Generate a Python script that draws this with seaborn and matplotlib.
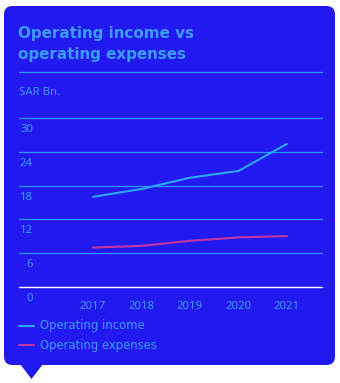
import matplotlib
matplotlib.use("Agg")
import matplotlib.pyplot as plt
import matplotlib.transforms as mtransforms
from matplotlib.patches import FancyBboxPatch, Polygon
from matplotlib.lines import Line2D
import pandas as pd
import seaborn as sns

# --- data (SAR Bn.) ---
years = [2017, 2018, 2019, 2020, 2021]
operating_income = [16.0, 17.4, 19.4, 20.6, 25.4]
operating_expenses = [7.0, 7.3, 8.2, 8.8, 9.05]
series_names = ["Operating income", "Operating expenses"]
y_ticks = [0, 6, 12, 18, 24, 30]

# --- colours ---
CARD = "#2219f0"
GRID = "#2b9af6"
TEXT = "#3a9dff"
INCOME = "#2aa8f7"
EXPENSE = "#c4359f"

W, H = 340, 383
sns.set_theme(style="white")
plt.rcParams["font.family"] = ["Noto Sans", "DejaVu Sans"]

fig = plt.figure(figsize=(W / 100, H / 100), dpi=100)
fig.patch.set_facecolor("white")

def px(x, y):
    """Figure fraction from pixel coords measured from top-left."""
    return x / W, 1 - y / H

# card background with rounded corners and a small pointer
card = FancyBboxPatch(px(4, 365), (335 - 4) / W, (365 - 6) / H,
                      boxstyle="round,pad=0,rounding_size=0.025",
                      transform=fig.transFigure, facecolor=CARD,
                      edgecolor="none", zorder=-10, mutation_aspect=W / H)
fig.patches.append(card)
pointer = Polygon([px(20, 364), px(43, 364), px(31.5, 379)], closed=True,
                  transform=fig.transFigure, facecolor=CARD,
                  edgecolor="none", zorder=-10)
fig.patches.append(pointer)

TITLE_FONT = ["DejaVu Sans"]

# title block
fig.text(*px(18, 38), "Operating income vs", fontsize=10.9, fontweight="bold",
         color=TEXT, family=TITLE_FONT, va="baseline", ha="left")
fig.text(*px(18, 59.5), "operating expenses", fontsize=10.9, fontweight="bold",
         color=TEXT, family=TITLE_FONT, va="baseline", ha="left")
fig.lines.append(Line2D([19 / W, 322 / W], [1 - 71.5 / H] * 2,
                        transform=fig.transFigure, color=GRID, lw=0.9))
fig.text(*px(19, 95), "SAR Bn.", fontsize=8.2, color=TEXT,
         va="baseline", ha="left")

# plotting area
x0, x1 = 19, 322
y_top, y_base = 118, 287
ax = fig.add_axes([x0 / W, 1 - y_base / H, (x1 - x0) / W, (y_base - y_top) / H])
ax.set_facecolor("none")

df = pd.DataFrame({
    "year": years * 2,
    "value": operating_income + operating_expenses,
    "series": [series_names[0]] * len(years) + [series_names[1]] * len(years),
})
sns.lineplot(data=df, x="year", y="value", hue="series", ax=ax,
             palette={series_names[0]: INCOME, series_names[1]: EXPENSE},
             linewidth=1.5, legend=False, zorder=3)

spacing = 48.5
ax.set_xlim(years[0] - (93 - x0) / spacing, years[-1] + (x1 - 287) / spacing)
ax.set_ylim(0, 30)

for v in y_ticks:
    ax.axhline(v, color="white" if v == 0 else GRID, lw=1.0 if v == 0 else 0.9,
               zorder=2, clip_on=False)

for s in ax.spines.values():
    s.set_visible(False)
ax.set_yticks([])
ax.set_xticks(years)
ax.set_xticklabels([str(y) for y in years], color=TEXT, fontsize=8.2)
ax.tick_params(axis="x", length=0, pad=10)
ax.set_xlabel("")
ax.set_ylabel("")

# y labels sit just below their gridlines
label_tr = mtransforms.offset_copy(ax.get_yaxis_transform(), fig=fig,
                                   x=14, y=-11.5, units="dots")
for v in y_ticks:
    ax.text(0, v, str(v), transform=label_tr, ha="right", va="center",
            color=TEXT, fontsize=8.2)

# legend
for i, (name, col) in enumerate(zip(series_names, [INCOME, EXPENSE])):
    yy = 326 + i * 19
    fig.lines.append(Line2D([19 / W, 34 / W], [1 - yy / H] * 2,
                            transform=fig.transFigure, color=col, lw=1.5))
    fig.text(*px(39.5, yy), name, fontsize=8.4, color=TEXT, family=TITLE_FONT,
             va="center", ha="left")

fig.savefig("out.png", dpi=100, facecolor="white")
